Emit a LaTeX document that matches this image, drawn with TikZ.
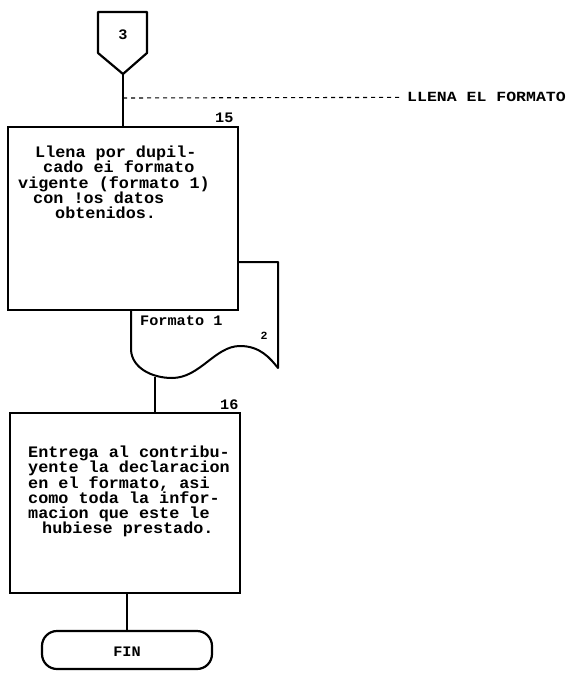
\documentclass[tikz,border=0pt]{standalone}
\usepackage{fontspec}
\newfontfamily\dotfont[FakeStretch=1.05]{Liberation Mono}
\newfontfamily\dotwide[FakeStretch=1.18]{Liberation Mono}
\begin{document}
\begin{tikzpicture}[x=1pt,y=-1pt,
  procbox/.style={draw,line width=2.5pt,fill=white,inner sep=0pt},
  termbox/.style={draw,line width=2.2pt,rounded corners=15pt,inner sep=0pt,minimum width=170pt,minimum height=38pt},
  conn/.style={line width=1.1pt},
  dashconn/.style={line width=1.1pt,dash pattern=on 4pt off 4pt},
  docline/.style={line width=2pt,line join=round},
  txt/.style={font=\dotfont\bfseries\fontsize{16pt}{15.2pt}\selectfont,inner sep=0pt,align=left},
  num/.style={font=\dotfont\bfseries\fontsize{14.5pt}{14pt}\selectfont,inner sep=0pt}]
\useasboundingbox (0,0) rectangle (570,674);
% off-page connector
\draw[line width=2.2pt,line join=round] (98,12) -- (147,12) -- (147,53) -- (123,74) -- (98,53) -- cycle;
\coordinate (c3tip) at (123,74);
\node[num] (n3) at (123,35) {3};
% documento (behind box 15)
\draw[docline] (131,310) -- (131,350) .. controls (132,368) and (152,378) .. (172,378)
  .. controls (200,378) and (215,346) .. (240,346)
  .. controls (260,346) and (270,358) .. (278,368) -- (278,262) -- (238,262);
\coordinate (docb) at (155,377);
\node[num,anchor=base west] (fmt) at (140,325) {Formato 1};
\node[num,font=\dotfont\bfseries\fontsize{11pt}{11pt}\selectfont] (n2) at (264,336) {2};
% box 15
\node[procbox,minimum width=230pt,minimum height=183pt] (b15) at (123,218.5) {};
\node[num,anchor=base west] (l15) at (215,123) {15};
\node[txt,anchor=north west] (t15) at (18,146) {%
\hspace*{17pt}Llena por dupil-\\
\hspace*{25pt}cado ei formato\\
vigente (formato 1)\\
\hspace*{15pt}con !os datos\\
\hspace*{37pt}obtenidos.};
% label
\node[num,font=\dotwide\bfseries\fontsize{14pt}{14pt}\selectfont,anchor=base west] (lab) at (407,102) {LLENA EL FORMATO};
\coordinate (tap) at (123,98);
% box 16
\node[procbox,minimum width=230pt,minimum height=180pt] (b16) at (125,503) {};
\node[num,anchor=base west] (l16) at (220,409) {16};
\node[txt,anchor=north west] (t16) at (28,446) {%
Entrega al contribu-\\
yente la declaracion\\
en el formato, asi\\
como toda la infor-\\
macion que este le\\
\hspace*{14pt}hubiese prestado.};
% terminal
\node[termbox] (fin) at (127,650) {};
\node[num] (tfin) at (127,652) {FIN};
% connectors
\draw[conn] (c3tip) -- (b15.north);
\draw[dashconn] (tap) -- ([xshift=-8pt]lab.west);
\draw[conn] (docb) -- (docb |- b16.north);
\draw[conn] (fin.north |- b16.south) -- (fin.north);
\end{tikzpicture}
\end{document}
